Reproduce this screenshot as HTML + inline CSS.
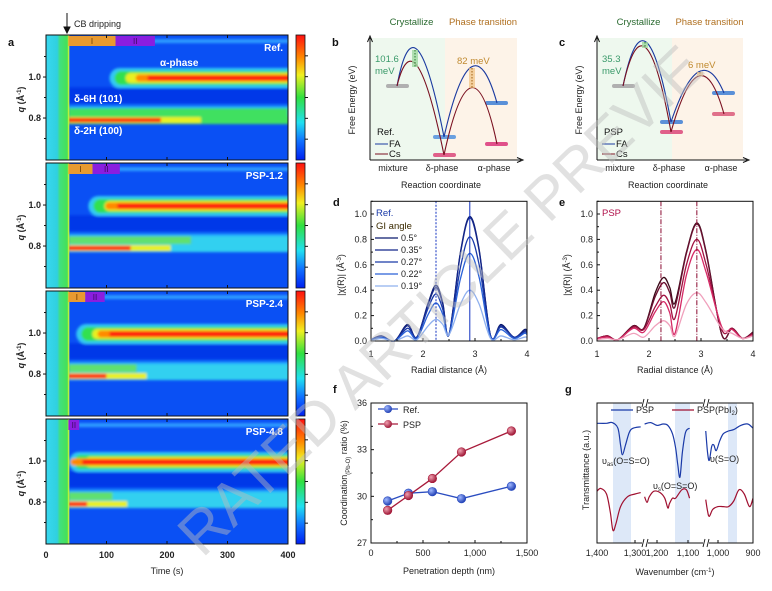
<!DOCTYPE html>
<html><head><meta charset="utf-8">
<style>
html,body{margin:0;padding:0;background:#fff;width:772px;height:591px;overflow:hidden;}
svg{display:block;font-family:"Liberation Sans",Arial,sans-serif;overflow:hidden;}
.t{font-size:9px;fill:#222;}
.lbl{font-size:11px;font-weight:bold;fill:#111;}
</style></head>
<body>
<svg id="fig" width="772" height="591" viewBox="0 0 772 591" xmlns="http://www.w3.org/2000/svg">
<defs>
<linearGradient id="leftG" x1="0" x2="1" y1="0" y2="0">
<stop offset="0" stop-color="#38d8f0"/><stop offset="0.5" stop-color="#30d0e0"/><stop offset="0.62" stop-color="#40e080"/><stop offset="1" stop-color="#48e050"/></linearGradient>
<linearGradient id="cbG" x1="0" x2="0" y1="0" y2="1">
<stop offset="0" stop-color="#ff1010"/><stop offset="0.18" stop-color="#ff8800"/><stop offset="0.32" stop-color="#f0f020"/><stop offset="0.5" stop-color="#30e040"/><stop offset="0.7" stop-color="#20e0f0"/><stop offset="0.85" stop-color="#1070ff"/><stop offset="1" stop-color="#0020f0"/></linearGradient>
<filter id="blur1"><feGaussianBlur stdDeviation="1.3"/></filter>
<radialGradient id="mRef" cx="0.35" cy="0.35" r="0.7"><stop offset="0" stop-color="#a0b8ff"/><stop offset="1" stop-color="#1a3ab0"/></radialGradient>
<radialGradient id="mPsp" cx="0.35" cy="0.35" r="0.7"><stop offset="0" stop-color="#f0a0b0"/><stop offset="1" stop-color="#9a1030"/></radialGradient>
<clipPath id="frameClip"><rect x="0" y="0" width="772" height="591"/></clipPath>
</defs>
<g id="panelA"></g>
<g id="panelB"></g>
<g id="panelD"></g>
<g id="panelE"></g>
<g id="panelF"></g>
<g id="panelG"></g>
<g clip-path="url(#frameClip)">
<text x="440" y="300" text-anchor="middle" dy="0.35em" transform="rotate(-44 440 300)" font-size="60" fill="#bdbdbd" opacity="0.45">RATED ARTICLE PREVIE</text>
</g>
</svg>
<script>
// ---------- Panel a data ----------
const panelNames=['Ref.','PSP-1.2','PSP-2.4','PSP-4.8'];
const alphaOnset=[105,70,50,38];
const alphaRed=[168,118,105,60];
const deltaRedEnd=[190,140,100,68];
const deltaGreenEnd=[400,240,150,110];
const phaseIEnd=[115,77,65,37];
const phaseIIEnd=[180,122,97,55];
const timeTicks=[0,100,200,300,400];
const qTicks=[1.0,0.8];
// ---------- Panel d data ----------
const rRef=[1,1.2,1.45,1.7,1.88,2.1,2.25,2.38,2.5,2.72,2.9,3.08,3.3,3.5,3.75,3.95,4];
const refSeries=[
[0.01,0.04,0.0,0.13,0.03,0.30,0.44,0.30,0.05,0.70,0.98,0.72,0.04,0.13,0.03,0.09,0.08],
[0.01,0.04,0.0,0.12,0.03,0.29,0.42,0.29,0.05,0.69,0.97,0.71,0.04,0.12,0.03,0.08,0.07],
[0.01,0.03,0.0,0.10,0.03,0.26,0.37,0.25,0.05,0.58,0.82,0.60,0.04,0.11,0.03,0.07,0.06],
[0.01,0.03,0.0,0.08,0.02,0.21,0.30,0.21,0.05,0.49,0.69,0.50,0.03,0.09,0.02,0.06,0.05],
[0.0,0.02,0.0,0.04,0.01,0.12,0.17,0.13,0.05,0.29,0.40,0.29,0.02,0.04,0.01,0.03,0.03]];
const angles=['0.5°','0.35°','0.27°','0.22°','0.19°'];
// ---------- Panel e data ----------
const rPsp=[1,1.2,1.4,1.7,1.9,2.12,2.28,2.4,2.5,2.72,2.92,3.1,3.4,3.6,3.8,4];
const pspSeries=[
[0.02,0.04,0.01,0.12,0.10,0.38,0.50,0.42,0.30,0.70,0.93,0.70,0.05,0.10,0.02,0.07],
[0.02,0.04,0.01,0.12,0.10,0.35,0.46,0.38,0.27,0.69,0.92,0.69,0.05,0.10,0.02,0.07],
[0.02,0.04,0.01,0.11,0.09,0.27,0.36,0.29,0.18,0.60,0.80,0.60,0.09,0.10,0.02,0.06],
[0.02,0.03,0.01,0.10,0.07,0.23,0.31,0.22,0.06,0.52,0.72,0.54,0.11,0.09,0.02,0.05],
[0.01,0.02,0.01,0.06,0.03,0.12,0.16,0.12,0.04,0.29,0.38,0.30,0.10,0.06,0.02,0.04]];
// ---------- Panel f data ----------
const depthRef=[160,360,590,870,1350];
const ratioRef=[29.7,30.2,30.3,29.85,30.65];
const depthPsp=[160,360,590,870,1350];
const ratioPsp=[29.1,30.05,31.15,32.85,34.2];
// ---------- Panel g data ----------
const wnBlue1=[1400,1375,1360,1345,1338,1333,1325,1315,1305,1285];
const tBlue1=[8.55,8.55,8.6,8.2,7.0,6.3,7.0,7.9,8.2,8.3];
const wnBlue2=[1240,1220,1200,1180,1165,1150,1140,1133,1126,1118,1108,1095];
const tBlue2=[8.5,8.6,8.4,8.5,8.4,7.8,6.8,5.6,4.7,6.5,7.9,8.2];
const wnBlue3=[1035,1030,1025,1018,1012,1005,995,985,970,955,935,915,900];
const tBlue3=[8.0,6.5,5.9,6.9,7.0,6.6,7.3,7.8,8.0,8.1,8.4,8.5,8.2];
const wnRed1=[1400,1390,1375,1365,1358,1350,1338,1320,1300,1285];
const tRed1=[3.7,3.9,3.5,2.2,0.9,1.4,2.6,3.3,3.5,3.6];
const wnRed2=[1240,1232,1225,1210,1190,1175,1165,1160,1150,1140,1120,1105,1095];
const tRed2=[3.3,2.9,3.3,3.7,3.6,3.2,2.5,2.8,3.2,3.2,3.8,3.8,3.2];
const wnRed3=[1035,1030,1025,1015,1000,985,970,955,940,925,910,900];
const tRed3=[3.1,2.3,1.9,2.4,2.6,2.6,2.6,3.0,3.8,3.5,2.6,3.2];

const NS='http://www.w3.org/2000/svg';
function mk(parent,tag,attrs,text){const e=document.createElementNS(NS,tag);for(const k in attrs)e.setAttribute(k,attrs[k]);if(text!==undefined)e.textContent=text;parent.appendChild(e);return e;}
function smooth(pts){let d='M'+pts[0][0]+','+pts[0][1];for(let i=0;i<pts.length-1;i++){const p0=pts[i-1]||pts[i],p1=pts[i],p2=pts[i+1],p3=pts[i+2]||p2;const c1x=p1[0]+(p2[0]-p0[0])/6,c1y=p1[1]+(p2[1]-p0[1])/6,c2x=p2[0]-(p3[0]-p1[0])/6,c2y=p2[1]-(p3[1]-p1[1])/6;d+=' C'+c1x.toFixed(2)+','+c1y.toFixed(2)+' '+c2x.toFixed(2)+','+c2y.toFixed(2)+' '+p2[0].toFixed(2)+','+p2[1].toFixed(2);}return d;}

// ================= Panel A =================
(function(){
const g=document.getElementById('panelA');
const tops=[35,163,291,419],H=125,X0=46,X1=288;
const tx=t=>X0+t*(X1-X0)/400;
mk(g,'text',{x:8,y:46,class:'lbl',},'a');
mk(g,'text',{x:74,y:27,class:'t','font-size':'9',},'CB dripping');
mk(g,'path',{d:'M67,13 L67,31 M64,27 L67,33 L70,27 Z',stroke:'#111','stroke-width':'1',fill:'#111',});
for(let i=0;i<4;i++){
 const T=tops[i];const qy=q=>T+(1.205-q)*205;
 const pg=mk(g,'g',{});
 const cid='clip'+i;const cp=mk(pg,'clipPath',{id:cid});mk(cp,'rect',{x:X0,y:T,width:X1-X0,height:H});
 const h=mk(pg,'g',{'clip-path':'url(#'+cid+')'});
 mk(h,'rect',{x:X0,y:T,width:X1-X0,height:H,fill:'#0a50f4'});
 const b=mk(h,'g',{filter:'url(#blur1)'});
 mk(b,'rect',{x:tx(37),y:qy(1.185),width:300,height:4,fill:'#2f9cff'});
 mk(b,'rect',{x:tx(37),y:qy(0.95),width:300,height:16,fill:'#0038e8'});
 const on=tx(alphaOnset[i]),rd=tx(alphaRed[i]),yc=qy(0.995);
 mk(b,'rect',{x:on,y:yc-10,width:400,height:20,rx:10,fill:'#30c8f4'});
 mk(b,'rect',{x:on+5,y:yc-7,width:400,height:14,rx:7,fill:'#30e050'});
 mk(b,'rect',{x:on+16,y:yc-5,width:400,height:10,rx:5,fill:'#e8f020'});
 mk(b,'rect',{x:rd-12,y:yc-3.5,width:400,height:7,rx:3.5,fill:'#ff8a00'});
 mk(b,'rect',{x:rd,y:yc-2.5,width:400,height:5,fill:'#ff2010'});
 const ge=tx(deltaGreenEnd[i]);
 mk(b,'rect',{x:tx(37),y:qy(0.86),width:300,height:5,fill:'#20a8ff'});
 mk(b,'rect',{x:tx(37),y:qy(0.848),width:ge-tx(37),height:10,fill:i==0?'#40e060':'#60e070'});
 mk(b,'rect',{x:ge,y:qy(0.848),width:300,height:10,fill:'#30d0f0'});
 const re=tx(deltaRedEnd[i]);const yr=qy(0.79);
 mk(b,'rect',{x:tx(37),y:yr-4,width:300,height:8,fill:i==0?'#40e060':'#30d0f0'});
 mk(b,'rect',{x:tx(37),y:yr-3,width:re-tx(37)+40,height:6,fill:'#e8f020'});
 mk(b,'rect',{x:tx(37),y:yr-2.2,width:re-tx(37),height:4.4,fill:'#ff2010'});
 mk(h,'rect',{x:X0,y:T,width:tx(37)-X0,height:H,fill:'url(#leftG)'});
 mk(h,'rect',{x:tx(36),y:T,width:1.6,height:H,fill:'#b8f040'});
 if(phaseIEnd[i]>37){mk(pg,'rect',{x:tx(37),y:T+1,width:tx(phaseIEnd[i])-tx(37),height:10,fill:'#e89a30',});
  mk(pg,'text',{x:(tx(37)+tx(phaseIEnd[i]))/2,y:T+9,'text-anchor':'middle','font-size':'8',fill:'#6a3a00'},'I');}
 mk(pg,'rect',{x:tx(phaseIEnd[i]),y:T+1,width:tx(phaseIIEnd[i])-tx(phaseIEnd[i]),height:10,fill:'#8a1ee0',});
 mk(pg,'text',{x:(tx(phaseIEnd[i])+tx(phaseIIEnd[i]))/2,y:T+9,'text-anchor':'middle','font-size':'8',fill:'#3a0a60'},'II');
 mk(pg,'rect',{x:X0,y:T,width:X1-X0,height:H,fill:'none',stroke:'#111','stroke-width':'1'});
 mk(pg,'text',{x:283,y:T+16,'text-anchor':'end','font-size':'10','font-weight':'bold',fill:'#fff',},panelNames[i]);
 for(const q of qTicks){mk(pg,'line',{x1:X0-3,x2:X0,y1:qy(q),y2:qy(q),stroke:'#111'});mk(pg,'text',{x:X0-5,y:qy(q)+3,'text-anchor':'end',class:'t','font-weight':'bold'},q.toFixed(1));}
 for(const q of [1.1,0.9,0.7]){mk(pg,'line',{x1:X0-2,x2:X0,y1:qy(q),y2:qy(q),stroke:'#111'});}
 for(const t of timeTicks.slice(1,4)){mk(pg,'line',{x1:tx(t),x2:tx(t),y1:T+H,y2:T+H-3,stroke:'#111'});mk(pg,'line',{x1:tx(t),x2:tx(t),y1:T,y2:T+3,stroke:'#111'});}
 const yl=mk(pg,'text',{x:0,y:0,transform:'translate(24,'+(T+H/2+2)+') rotate(-90)','text-anchor':'middle',class:'t','font-weight':'bold',});
 yl.innerHTML='<tspan font-style="italic">q</tspan> (Å<tspan dy="-3" font-size="6">-1</tspan><tspan dy="3">)</tspan>';
 mk(pg,'rect',{x:296,y:T,width:9,height:H,fill:'url(#cbG)',stroke:'#111','stroke-width':'0.8',});
 for(let k=1;k<6;k++){mk(pg,'line',{x1:305,x2:308,y1:T+k*H/6,y2:T+k*H/6,stroke:'#111'});}
}
mk(g,'text',{x:160,y:66,'font-size':'10','font-weight':'bold',fill:'#fff'},'α-phase');
mk(g,'text',{x:74,y:102,'font-size':'10','font-weight':'bold',fill:'#fff'},'δ-6H (101)');
mk(g,'text',{x:74,y:134,'font-size':'10','font-weight':'bold',fill:'#fff'},'δ-2H (100)');
for(const t of timeTicks){mk(g,'text',{x:tx(t),y:558,'text-anchor':'middle',class:'t','font-weight':'bold',},String(t));}
mk(g,'text',{x:167,y:574,'text-anchor':'middle',class:'t',},'Time (s)');
})();

// ================= Panels b & c (schematic) =================
(function(){
const g=document.getElementById('panelB');
function diagram(o){
 const p=mk(g,'g',{});
 mk(p,'text',{x:o.ax-38,y:46,class:'lbl'},o.letter);
 mk(p,'rect',{x:o.ax,y:38,width:o.mid-o.ax,height:122,fill:'#eef8ee'});
 mk(p,'rect',{x:o.mid,y:38,width:o.end-o.mid,height:122,fill:'#fdf3e8'});
 mk(p,'path',{d:'M'+o.ax+',160 L'+o.ax+',38 M'+(o.ax-2.5)+',42 L'+o.ax+',36 L'+(o.ax+2.5)+',42',stroke:'#111',fill:'none','stroke-width':'1'});
 mk(p,'path',{d:'M'+o.ax+',160 L'+(o.end+4)+',160 M'+(o.end)+',157.5 L'+(o.end+6)+',160 L'+o.end+',162.5',stroke:'#111',fill:'none','stroke-width':'1'});
 mk(p,'text',{x:(o.ax+o.mid)/2+4,y:25,'text-anchor':'middle','font-size':'9.5',fill:'#2a6a30'},'Crystallize');
 mk(p,'text',{x:(o.mid+o.end)/2+2,y:25,'text-anchor':'middle','font-size':'9.5',fill:'#b07020'},'Phase transition');
 for(const bb of o.bars){mk(p,'rect',{x:bb[0],y:bb[1]-2,width:23,height:4,rx:2,fill:bb[2]});}
 for(const a of o.arcs){mk(p,'path',{d:a[0],stroke:a[1],fill:'none','stroke-width':'1.1'});}
 mk(p,'rect',{x:o.m1[0]-3,y:o.m1[1],width:6,height:o.m1[2]-o.m1[1],fill:'#9fd8a0',opacity:'0.8'});
 mk(p,'line',{x1:o.m1[0],x2:o.m1[0],y1:o.m1[1],y2:o.m1[2],stroke:'#2a7a30','stroke-dasharray':'1.5,1.5'});
 mk(p,'rect',{x:o.m2[0]-3,y:o.m2[1],width:6,height:o.m2[2]-o.m2[1],fill:'#f0c080',opacity:'0.7'});
 mk(p,'line',{x1:o.m2[0],x2:o.m2[0],y1:o.m2[1],y2:o.m2[2],stroke:'#a06010','stroke-dasharray':'1.5,1.5'});
 mk(p,'text',{x:o.ax+5,y:62,'font-size':'9.5',fill:'#3a9a6a'},o.e1);
 mk(p,'text',{x:o.ax+5,y:74,'font-size':'9.5',fill:'#3a9a6a'},'meV');
 mk(p,'text',{x:o.e2x,y:o.e2y,'font-size':'9.5',fill:'#c08a30'},o.e2);
 mk(p,'text',{x:o.ax+7,y:135,'font-size':'9.5',fill:'#111'},o.tag);
 mk(p,'line',{x1:o.ax+5,x2:o.ax+18,y1:144,y2:144,stroke:'#1a3aa0'});
 mk(p,'text',{x:o.ax+19,y:147,'font-size':'9.5',fill:'#111'},'FA');
 mk(p,'line',{x1:o.ax+5,x2:o.ax+18,y1:154,y2:154,stroke:'#7a1020'});
 mk(p,'text',{x:o.ax+19,y:157,'font-size':'9.5',fill:'#111'},'Cs');
 mk(p,'text',{x:o.ax+23,y:171,'text-anchor':'middle',class:'t'},'mixture');
 mk(p,'text',{x:o.ax+72,y:171,'text-anchor':'middle',class:'t'},'δ-phase');
 mk(p,'text',{x:o.ax+124,y:171,'text-anchor':'middle',class:'t'},'α-phase');
 mk(p,'text',{x:o.ax+71,y:188,'text-anchor':'middle',class:'t'},'Reaction coordinate');
 mk(p,'text',{x:0,y:0,transform:'translate('+(o.ax-15)+',100) rotate(-90)','text-anchor':'middle',class:'t'},'Free Energy (eV)');
}
diagram({name:'energy-diagram-ref',letter:'b',ax:370,mid:445,end:517,
 bars:[[386,86,'#b0b0b0'],[433,137,'#6aa0e0'],[433,155,'#e0608a'],[485,103,'#5a90d8'],[485,144,'#e0508a']],
 arcs:[['M397,86 Q415,-11 444,137','#1a3aa0'],['M397,86 Q415,13 444,155','#7a1020'],['M444,137 Q472,14 497,103','#1a3aa0'],['M444,155 Q472,26 497,144','#7a1020']],
 m1:[415,50,67],m2:[472,68,88],e1:'101.6',e2:'82 meV',e2x:457,e2y:64,tag:'Ref.'});
diagram({name:'energy-diagram-psp',letter:'c',ax:597,mid:672,end:743,
 bars:[[612,86,'#b0b0b0'],[660,122,'#5a90d8'],[660,132,'#e0608a'],[712,93,'#5a90d8'],[712,114,'#e0708a']],
 arcs:[['M623,86 Q645,-20 671,122','#1a3aa0'],['M623,86 Q645,-13 671,132','#7a1020'],['M671,122 Q700,36 724,93','#1a3aa0'],['M671,132 Q700,29 724,114','#7a1020']],
 m1:[645,42,48],m2:[700,72,76],e1:'35.3',e2:'6 meV',e2x:688,e2y:68,tag:'PSP'});
})();

// ================= Panels d & e =================
function exafs(gid,letter,xs,series,colors,lineColor,vls,tag,tagColor,X0){
 const g=document.getElementById(gid);
 const X1=X0+156,Yb=341;const sx=r=>X0+(r-1)*(X1-X0)/3,sy=v=>Yb-v*127;
 mk(g,'text',{x:X0-38,y:206,class:'lbl'},letter);
 for(let k=0;k<series.length;k++){
  const pts=xs.map((r,j)=>[sx(r),sy(series[k][j])]);
  const pl=mk(g,'path',{d:smooth(pts),stroke:colors[k],fill:'none','stroke-width':'1.3'});
  
  
 }
 for(const v of vls){mk(g,'line',{x1:sx(v[0]),x2:sx(v[0]),y1:sy(1.1),y2:Yb,stroke:lineColor,'stroke-width':'1','stroke-dasharray':v[1]});}
 mk(g,'rect',{x:X0,y:sy(1.1),width:X1-X0,height:Yb-sy(1.1),fill:'none',stroke:'#111'});
 for(let v=0;v<=1.0001;v+=0.2){mk(g,'line',{x1:X0,x2:X0+3,y1:sy(v),y2:sy(v),stroke:'#111'});mk(g,'text',{x:X0-4,y:sy(v)+3,'text-anchor':'end',class:'t'},v.toFixed(1));}
 for(let v=0.1;v<1.1;v+=0.2){mk(g,'line',{x1:X0,x2:X0+2,y1:sy(v),y2:sy(v),stroke:'#111'});}
 for(let r=1;r<=4;r++){mk(g,'line',{x1:sx(r),x2:sx(r),y1:Yb,y2:Yb-3,stroke:'#111'});mk(g,'text',{x:sx(r),y:357,'text-anchor':'middle',class:'t'},String(r));}
 for(let r=1.5;r<4;r+=1){mk(g,'line',{x1:sx(r),x2:sx(r),y1:Yb,y2:Yb-2,stroke:'#111'});}
 mk(g,'text',{x:(X0+X1)/2,y:373,'text-anchor':'middle',class:'t',},'Radial distance (Å)');
 const yt=mk(g,'text',{x:0,y:0,transform:'translate('+(X0-27)+',275) rotate(-90)','text-anchor':'middle',class:'t',});
 yt.innerHTML='|χ(R)| (Å<tspan dy="-3" font-size="6">-3</tspan><tspan dy="3">)</tspan>';
 mk(g,'text',{x:X0+5,y:216,'font-size':'9.5',fill:tagColor},tag);
}
exafs('panelD','d',rRef,refSeries,['#0a1a6e','#13268a','#1a3aa8','#2a62d8','#8fb0ee'],'#1030c0',[[2.25,'2,1.5'],[2.9,'0']],'Ref.','#1a3aa8',371);
exafs('panelE','e',rPsp,pspSeries,['#3a0818','#6a1030','#a01040','#d62a66','#f0a0bc'],'#8a0a30',[[2.23,'5,1.5,1,1.5'],[2.92,'5,1.5,1,1.5']],'PSP','#b0104a',597);
(function(){const g=document.getElementById('panelD');
 mk(g,'text',{x:376,y:229,'font-size':'9.5',fill:'#3a2a00'},'GI angle');
 const cols=['#0a1a6e','#13268a','#1a3aa8','#2a62d8','#8fb0ee'];
 for(let k=0;k<angles.length;k++){const y=241+k*12;
  mk(g,'line',{x1:375,x2:398,y1:y-3,y2:y-3,stroke:cols[k],'stroke-width':'1.3'});
  mk(g,'text',{x:401,y:y,class:'t',},angles[k]);}
})();

// ================= Panel f =================
(function(){
const g=document.getElementById('panelF');
const X0=371,X1=527,Yt=403,Yb=543;const sx=d=>X0+d*(X1-X0)/1500,sy=v=>Yb-(v-27)*(Yb-Yt)/9;
mk(g,'text',{x:333,y:393,class:'lbl'},'f');
mk(g,'rect',{x:X0,y:Yt,width:X1-X0,height:Yb-Yt,fill:'none',stroke:'#111'});
for(const v of [27,30,33,36]){mk(g,'line',{x1:X0,x2:X0+3,y1:sy(v),y2:sy(v),stroke:'#111'});mk(g,'text',{x:X0-4,y:sy(v)+3,'text-anchor':'end',class:'t'},String(v));}
for(const v of [28.5,31.5,34.5]){mk(g,'line',{x1:X0,x2:X0+2,y1:sy(v),y2:sy(v),stroke:'#111'});}
const xl=['0','500','1,000','1,500'];
for(let k=0;k<4;k++){const d=k*500;mk(g,'line',{x1:sx(d),x2:sx(d),y1:Yb,y2:Yb-3,stroke:'#111'});mk(g,'text',{x:sx(d),y:556,'text-anchor':'middle',class:'t'},xl[k]);}
for(const d of [250,750,1250]){mk(g,'line',{x1:sx(d),x2:sx(d),y1:Yb,y2:Yb-2,stroke:'#111'});}
function series(xs,ys,col,grad,name){
 mk(g,'path',{d:'M'+xs.map((d,i)=>sx(d)+','+sy(ys[i])).join(' L'),stroke:col,fill:'none','stroke-width':'1.3'});
 for(let i=0;i<xs.length;i++){const c=mk(g,'circle',{cx:sx(xs[i]),cy:sy(ys[i]),r:4.3,fill:grad,stroke:col,'stroke-width':'0.6'});
  
  }
}
series(depthRef,ratioRef,'#2a4cc0','url(#mRef)','ref');
series(depthPsp,ratioPsp,'#a81a3a','url(#mPsp)','psp');
mk(g,'line',{x1:378,x2:398,y1:409,y2:409,stroke:'#2a4cc0','stroke-width':'1.3'});mk(g,'circle',{cx:388,cy:409,r:4,fill:'url(#mRef)'});
mk(g,'text',{x:403,y:413,class:'t',},'Ref.');
mk(g,'line',{x1:378,x2:398,y1:424,y2:424,stroke:'#a81a3a','stroke-width':'1.3'});mk(g,'circle',{cx:388,cy:424,r:4,fill:'url(#mPsp)'});
mk(g,'text',{x:403,y:428,class:'t',},'PSP');
mk(g,'text',{x:449,y:574,'text-anchor':'middle',class:'t',},'Penetration depth (nm)');
const yt=mk(g,'text',{x:0,y:0,transform:'translate(347,473) rotate(-90)','text-anchor':'middle',class:'t',});
yt.innerHTML='Coordination<tspan dy="3" font-size="6">(Pb-O)</tspan><tspan dy="-3"> ratio (%)</tspan>';
})();

// ================= Panel g =================
(function(){
const g=document.getElementById('panelG');
const X0=597,X1=753,Yt=403,Yb=543;
const segs=[[1400,597,0.38],[1200,657,0.31],[1000,718,0.35]];
const sxs=(s,w)=>segs[s][1]+(segs[s][0]-w)*segs[s][2];
const sy=v=>Yb-v*14;
mk(g,'text',{x:565,y:393,class:'lbl'},'g');
mk(g,'rect',{x:613,y:Yt,width:18,height:Yb-Yt,fill:'#dde8f8'});
mk(g,'rect',{x:675,y:Yt,width:15,height:Yb-Yt,fill:'#dde8f8'});
mk(g,'rect',{x:728,y:Yt,width:9,height:Yb-Yt,fill:'#dde8f8'});
const data=[[0,wnBlue1,tBlue1,'#1a3aa8'],[1,wnBlue2,tBlue2,'#1a3aa8'],[2,wnBlue3,tBlue3,'#1a3aa8'],[0,wnRed1,tRed1,'#a01030'],[1,wnRed2,tRed2,'#a01030'],[2,wnRed3,tRed3,'#a01030']];
for(const d of data){const pts=d[1].map((w,i)=>[sxs(d[0],w),sy(d[2][i])]);
 const p=mk(g,'path',{d:smooth(pts),stroke:d[3],fill:'none','stroke-width':'1.2'});
 
 }
mk(g,'rect',{x:X0,y:Yt,width:X1-X0,height:Yb-Yt,fill:'none',stroke:'#111'});
for(const bx of [645,706]){mk(g,'rect',{x:bx-3,y:Yt-4,width:6,height:8,fill:'#fff'});mk(g,'rect',{x:bx-3,y:Yb-4,width:6,height:8,fill:'#fff'});
 for(const y of [Yt,Yb]){mk(g,'path',{d:'M'+(bx-3)+','+(y+4)+' L'+(bx-1)+','+(y-4)+' M'+(bx+1)+','+(y+4)+' L'+(bx+3)+','+(y-4),stroke:'#111','stroke-width':'0.9'});}}
const xt=[[0,1400,'1,400'],[0,1300,'1,300'],[1,1200,'1,200'],[1,1100,'1,100'],[2,1000,'1,000'],[2,900,'900']];
for(const t of xt){const x=sxs(t[0],t[1]);mk(g,'line',{x1:x,x2:x,y1:Yb,y2:Yb-3,stroke:'#111'});mk(g,'text',{x:x,y:556,'text-anchor':'middle',class:'t'},t[2]);}
mk(g,'line',{x1:611,x2:633,y1:410,y2:410,stroke:'#1a3aa8','stroke-width':'1.2'});
mk(g,'text',{x:636,y:413,class:'t',},'PSP');
mk(g,'line',{x1:672,x2:694,y1:410,y2:410,stroke:'#a01030','stroke-width':'1.2'});
const l2=mk(g,'text',{x:697,y:413,class:'t',});l2.innerHTML='PSP(PbI<tspan dy="2" font-size="6">2</tspan><tspan dy="-2">)</tspan>';
const a1=mk(g,'text',{x:602,y:464,class:'t'});a1.innerHTML='υ<tspan dy="2" font-size="6">as</tspan><tspan dy="-2">(O=S=O)</tspan>';
const a2=mk(g,'text',{x:653,y:489,class:'t'});a2.innerHTML='υ<tspan dy="2" font-size="6">s</tspan><tspan dy="-2">(O=S=O)</tspan>';
mk(g,'text',{x:710,y:462,class:'t'},'υ(S=O)');
const xtl=mk(g,'text',{x:675,y:575,'text-anchor':'middle',class:'t',});xtl.innerHTML='Wavenumber (cm<tspan dy="-3" font-size="6">-1</tspan><tspan dy="3">)</tspan>';
mk(g,'text',{x:0,y:0,transform:'translate(589,470) rotate(-90)','text-anchor':'middle',class:'t',},'Transmittance (a.u.)');
})();
</script>
</body></html>
